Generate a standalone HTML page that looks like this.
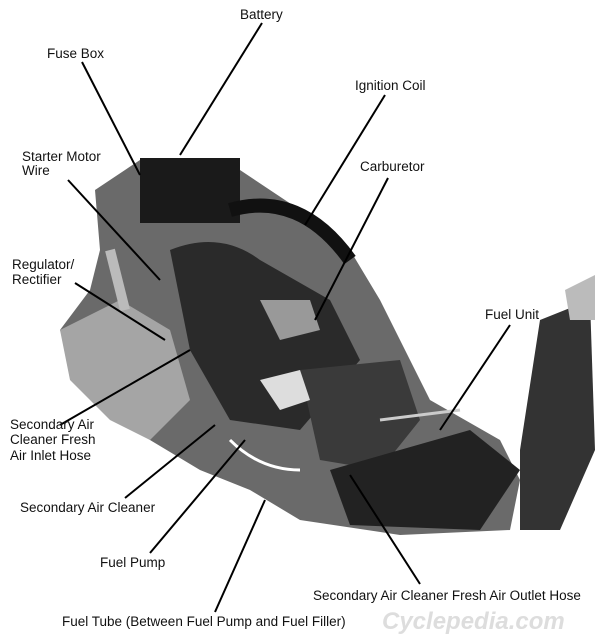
<!DOCTYPE html>
<html><head><style>
body{margin:0;background:#fff;}
svg{display:block}
text{font-family:"Liberation Sans",sans-serif;font-size:13.5px;fill:#111}
</style></head><body>
<svg width="600" height="637" viewBox="0 0 600 637">
<g>
<path d="M95 190 L140 160 L240 170 L300 210 L350 250 L380 300 L410 360 L430 400 L500 440 L520 480 L510 530 L400 535 L300 520 L250 490 L200 470 L150 440 L110 410 L70 360 L60 330 L90 290 L100 250 Z" fill="#6a6a6a"/>
<path d="M60 330 L120 300 L170 330 L190 400 L150 440 L110 420 L70 380 Z" fill="#a5a5a5"/>
<rect x="140" y="158" width="100" height="65" fill="#1a1a1a"/>
<path d="M170 250 Q220 230 260 260 L330 300 L360 360 L300 430 L230 420 L190 350 Z" fill="#2a2a2a"/>
<path d="M300 370 L400 360 L420 420 L380 470 L320 460 Z" fill="#3a3a3a"/>
<path d="M330 470 L470 430 L520 470 L480 530 L350 525 Z" fill="#222"/>
<path d="M540 320 L590 300 L595 450 L560 530 L520 530 L520 450 Z" fill="#333"/>
<path d="M565 290 L595 275 L595 320 L570 320 Z" fill="#bbb"/>
<path d="M260 300 L310 300 L320 330 L280 340 Z" fill="#999"/>
<path d="M260 380 L300 370 L310 400 L280 410 Z" fill="#ddd"/>
<path d="M230 210 Q300 190 350 260" stroke="#111" stroke-width="14" fill="none"/>
<path d="M110 250 L125 310" stroke="#bbb" stroke-width="10"/>
<path d="M230 440 Q260 470 300 470" stroke="#fff" stroke-width="3" fill="none"/>
<path d="M380 420 L460 410" stroke="#ccc" stroke-width="3"/>
</g>
<g stroke="#000" stroke-width="2">
<line x1="262" y1="23" x2="180" y2="155"/>
<line x1="82" y1="62" x2="140" y2="175"/>
<line x1="68" y1="180" x2="160" y2="280"/>
<line x1="385" y1="95" x2="305" y2="225"/>
<line x1="388" y1="178" x2="315" y2="320"/>
<line x1="75" y1="283" x2="165" y2="340"/>
<line x1="510" y1="325" x2="440" y2="430"/>
<line x1="60" y1="425" x2="190" y2="350"/>
<line x1="125" y1="498" x2="215" y2="425"/>
<line x1="150" y1="553" x2="245" y2="440"/>
<line x1="420" y1="584" x2="350" y2="475"/>
<line x1="215" y1="612" x2="265" y2="500"/>
</g>
<text x="240" y="19">Battery</text>
<text x="47" y="58">Fuse Box</text>
<text x="22" y="161">Starter Motor</text>
<text x="22" y="175">Wire</text>
<text x="355" y="90">Ignition Coil</text>
<text x="360" y="171">Carburetor</text>
<text x="12" y="269">Regulator/</text>
<text x="12" y="284">Rectifier</text>
<text x="485" y="319">Fuel Unit</text>
<text x="10" y="429">Secondary Air</text>
<text x="10" y="444">Cleaner Fresh</text>
<text x="10" y="460">Air Inlet Hose</text>
<text x="20" y="512">Secondary Air Cleaner</text>
<text x="100" y="567">Fuel Pump</text>
<text x="313" y="600">Secondary Air Cleaner Fresh Air Outlet Hose</text>
<text x="62" y="626">Fuel Tube (Between Fuel Pump and Fuel Filler)</text>
<text x="382" y="629" style="font-size:24px;font-weight:bold;font-style:italic;fill:#ddd">Cyclepedia.com</text>
</svg>
</body></html>
